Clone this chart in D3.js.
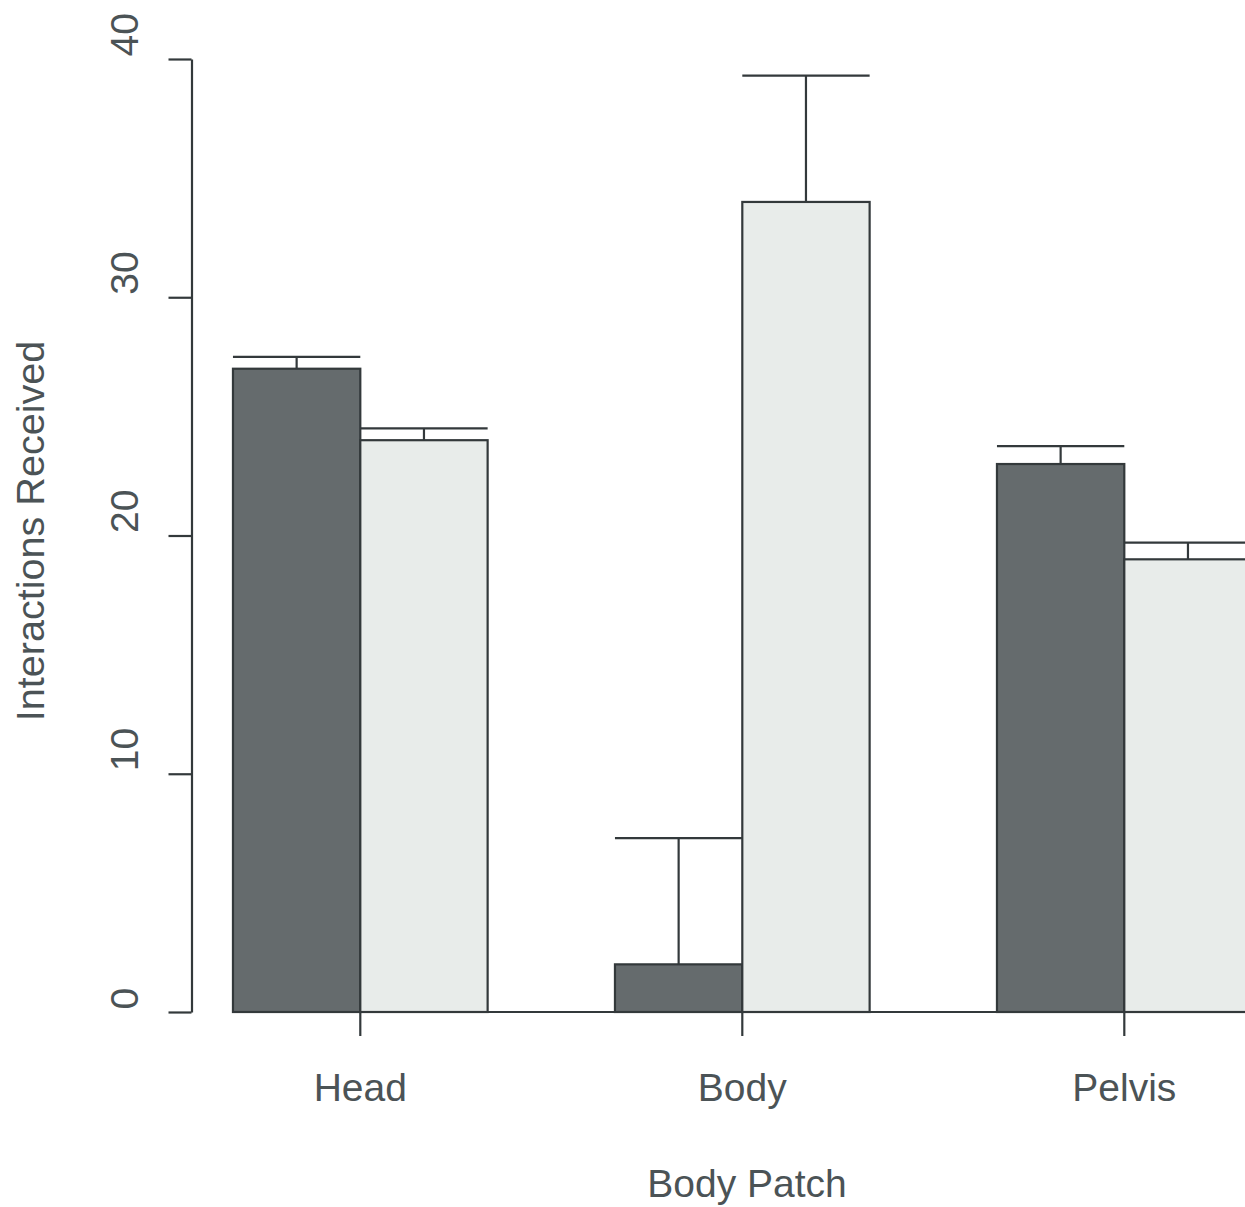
<!DOCTYPE html>
<html>
<head>
<meta charset="utf-8">
<script src="https://cdn.jsdelivr.net/npm/d3@7"></script>
<style>
  html, body { margin: 0; padding: 0; background: #fff; }
  svg { display: block; }
</style>
</head>
<body>
<main></main>
<script>
const patches = ['Head', 'Body', 'Pelvis'];
const groups = ['dark', 'light'];
const darkValues = [27, 2, 23];
const lightValues = [24, 34, 19];
const darkUpper = [27.5, 7.3, 23.75];
const lightUpper = [24.5, 39.3, 19.7];
const yTicks = [0, 10, 20, 30, 40];

const width = 1245;
const height = 1207;
const textColor = '#4b5356';
const lineColor = '#33393b';
const fills = { dark: '#656b6d', light: '#e8ecea' };
const font = '"Liberation Sans", Arial, Helvetica, sans-serif';

const rows = patches.flatMap((p, i) => [
  { patch: p, group: 'dark', value: darkValues[i], upper: darkUpper[i] },
  { patch: p, group: 'light', value: lightValues[i], upper: lightUpper[i] }
]);

const svg = d3.select('main')
  .append('svg')
  .attr('width', width)
  .attr('height', height)
  .style('font-family', font)

// Scales
const x = d3.scaleBand()
  .domain(patches)
  .range([169.3, 1315.3])
  .paddingInner(1 / 3)
  .paddingOuter(1 / 6)

const xInner = d3.scaleBand()
  .domain(groups)
  .range([0, x.bandwidth()])

const y = d3.scaleLinear()
  .domain([0, 40])
  .range([1012, 59])

// Baseline under the bars
svg.append('line')
  .attr('x1', x(patches[0]))
  .attr('x2', width)
  .attr('y1', y(0))
  .attr('y2', y(0))
  .style('stroke', lineColor)
  .style('stroke-width', 2.2)

// Bars
svg.append('g')
  .selectAll('rect')
  .data(rows)
  .enter()
  .append('rect')
  .attr('x', d => x(d.patch) + xInner(d.group))
  .attr('y', d => y(d.value))
  .attr('width', xInner.bandwidth())
  .attr('height', d => y(0) - y(d.value))
  .style('fill', d => fills[d.group])
  .style('stroke', lineColor)
  .style('stroke-width', 2.2)

// Error bars
const err = svg.append('g')
  .selectAll('g')
  .data(rows)
  .enter()
  .append('g')
  .style('stroke', lineColor)
  .style('stroke-width', 2.2)

err.append('line')
  .attr('x1', d => x(d.patch) + xInner(d.group) + xInner.bandwidth() / 2)
  .attr('x2', d => x(d.patch) + xInner(d.group) + xInner.bandwidth() / 2)
  .attr('y1', d => y(d.value))
  .attr('y2', d => y(d.upper))

err.append('line')
  .attr('x1', d => x(d.patch) + xInner(d.group))
  .attr('x2', d => x(d.patch) + xInner(d.group) + xInner.bandwidth())
  .attr('y1', d => y(d.upper))
  .attr('y2', d => y(d.upper))

// Y axis
const yAxis = d3.axisLeft(y)
  .tickValues(yTicks)
  .tickSize(23)
  .tickSizeOuter(0)
  .tickPadding(0)

const yG = svg.append('g')
  .attr('transform', 'translate(191.5, 0)')
  .call(yAxis)

yG.selectAll('path, line')
  .style('stroke', lineColor)
  .style('stroke-width', 2.2)

// labels sit just above their tick, reading upwards
yG.selectAll('text')
  .attr('x', null)
  .attr('y', null)
  .attr('dy', null)
  .attr('transform', 'translate(-54, -3) rotate(-90)')
  .style('text-anchor', 'start')
  .style('font-size', '39px')
  .style('font-family', font)
  .style('fill', textColor)

// X axis
const xAxis = d3.axisBottom(x)
  .tickSize(24)
  .tickSizeOuter(0)
  .tickPadding(37)

const xG = svg.append('g')
  .attr('transform', `translate(0, ${y(0)})`)
  .call(xAxis)

xG.select('.domain').remove()

xG.selectAll('line')
  .style('stroke', lineColor)
  .style('stroke-width', 2.2)

xG.selectAll('text')
  .style('font-size', '39px')
  .style('font-family', font)
  .style('fill', textColor)

// Axis titles
svg.append('text')
  .attr('x', 747)
  .attr('y', 1197)
  .style('text-anchor', 'middle')
  .style('font-size', '39px')
  .style('fill', textColor)
  .text('Body Patch')

svg.append('text')
  .attr('transform', 'translate(44, 531) rotate(-90)')
  .style('text-anchor', 'middle')
  .style('font-size', '39.6px')
  .style('fill', textColor)
  .text('Interactions Received')
</script>
</body>
</html>
